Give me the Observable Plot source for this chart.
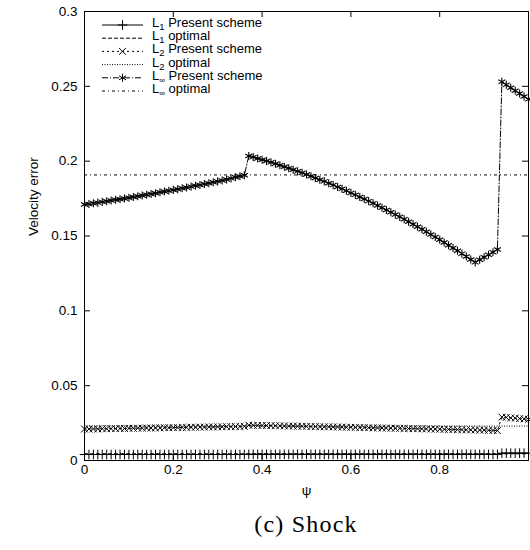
<!DOCTYPE html>
<html><head><meta charset="utf-8">
<script src="https://cdn.jsdelivr.net/npm/d3@7"></script>
<script src="https://cdn.jsdelivr.net/npm/@observablehq/plot@0.6"></script>
<style>
html,body{margin:0;padding:0;background:#fff;}
#wrap{position:relative;width:530px;height:550px;overflow:hidden;font-family:"Liberation Sans",Arial,sans-serif;}
#legend{position:absolute;left:0;top:0;}
#caption{position:absolute;left:84px;width:444px;top:510px;text-align:center;font-family:"Liberation Serif","DejaVu Serif",serif;font-size:24px;letter-spacing:1.2px;line-height:28px;color:#000;}
</style></head><body><div id="wrap"></div>
<script>
// psi sample points (last point repeated: drop at the right border)
const psi = [0,0.01,0.02,0.03,0.04,0.05,0.06,0.07,0.08,0.09,0.10,0.11,0.12,0.13,0.14,0.15,0.16,0.17,0.18,0.19,0.20,0.21,0.22,0.23,0.24,0.25,0.26,0.27,0.28,0.29,0.30,0.31,0.32,0.33,0.34,0.35,0.36,0.37,0.38,0.39,0.40,0.41,0.42,0.43,0.44,0.45,0.46,0.47,0.48,0.49,0.50,0.51,0.52,0.53,0.54,0.55,0.56,0.57,0.58,0.59,0.60,0.61,0.62,0.63,0.64,0.65,0.66,0.67,0.68,0.69,0.70,0.71,0.72,0.73,0.74,0.75,0.76,0.77,0.78,0.79,0.80,0.81,0.82,0.83,0.84,0.85,0.86,0.87,0.88,0.89,0.90,0.91,0.92,0.93,0.94,0.95,0.96,0.97,0.98,0.99,1.00,1.00];

const L1Present = [0.0040,0.0040,0.0040,0.0040,0.0040,0.0040,0.0040,0.0040,0.0040,0.0040,0.0040,0.0040,0.0040,0.0040,0.0040,0.0040,0.0040,0.0040,0.0040,0.0040,0.0040,0.0040,0.0040,0.0040,0.0040,0.0040,0.0040,0.0040,0.0040,0.0040,0.0040,0.0040,0.0040,0.0040,0.0040,0.0040,0.0040,
0.0041,0.0041,0.0041,0.0041,0.0041,0.0041,0.0041,0.0041,0.0041,0.0041,0.0041,0.0041,0.0041,0.0041,0.0041,0.0041,0.0041,0.0041,0.0041,0.0041,0.0041,0.0041,0.0041,0.0041,0.0041,0.0041,0.0041,0.0041,0.0041,0.0041,0.0041,0.0041,0.0041,0.0041,0.0041,0.0041,0.0041,0.0041,0.0041,0.0041,0.0041,0.0041,0.0041,0.0041,0.0041,0.0041,0.0041,0.0041,0.0041,0.0041,0.0041,0.0041,0.0041,0.0041,0.0041,0.0041,0.0041,
0.0049,0.0049,0.0049,0.0049,0.0049,0.0049,0.0049,0.0041];

const L2Present = [0.0210,0.0210,0.0211,0.0211,0.0212,0.0212,0.0213,0.0213,0.0214,0.0214,0.0215,0.0215,0.0216,0.0216,0.0217,0.0217,0.0218,0.0218,0.0219,0.0219,0.0220,0.0220,0.0221,0.0221,0.0222,0.0222,0.0223,0.0223,0.0224,0.0224,0.0225,0.0225,0.0226,0.0226,0.0227,0.0227,0.0228,
0.0236,0.0235,0.0235,0.0234,0.0234,0.0233,0.0232,0.0232,0.0231,0.0230,0.0230,0.0229,0.0229,0.0228,0.0227,0.0227,0.0226,0.0225,0.0225,0.0224,0.0224,0.0223,0.0222,0.0222,0.0221,0.0220,0.0220,0.0219,0.0218,0.0218,0.0217,0.0217,0.0216,0.0215,0.0215,0.0214,0.0213,0.0213,0.0212,0.0212,0.0211,0.0210,0.0210,0.0209,0.0208,0.0208,0.0207,0.0206,0.0206,0.0205,0.0205,0.0204,0.0203,0.0203,0.0202,0.0201,0.0200,
0.0290,0.0288,0.0285,0.0283,0.0280,0.0278,0.0275,0.0200];

const LinfPresent = [0.1710,0.1714,0.1719,0.1723,0.1728,0.1732,0.1737,0.1742,0.1746,0.1751,0.1756,0.1761,0.1766,0.1771,0.1776,0.1781,0.1786,0.1792,0.1797,0.1802,0.1808,0.1813,0.1819,0.1824,0.1830,0.1836,0.1841,0.1847,0.1853,0.1859,0.1865,0.1871,0.1878,0.1885,0.1892,0.1899,0.1906,
0.2035,0.2027,0.2018,0.2010,0.2001,0.1992,0.1983,0.1973,0.1963,0.1953,0.1943,0.1932,0.1922,0.1911,0.1899,0.1888,0.1876,0.1865,0.1852,0.1840,0.1827,0.1815,0.1802,0.1788,0.1775,0.1761,0.1747,0.1733,0.1719,0.1704,0.1689,0.1674,0.1659,0.1643,0.1628,0.1612,0.1595,0.1579,0.1562,0.1545,0.1528,0.1510,0.1493,0.1475,0.1457,0.1438,0.1420,0.1401,0.1382,0.1363,0.1343,0.1324,0.1341,0.1358,0.1375,0.1392,0.1410,
0.2530,0.2510,0.2491,0.2471,0.2452,0.2432,0.2413,0.1420];

const L1Optimal = 0.0045;
const L2Optimal = 0.0230;
const LinfOptimal = 0.1908;

const xTicks = [0, 0.2, 0.4, 0.6, 0.8];
const yTicks = [0, 0.05, 0.1, 0.15, 0.2, 0.25, 0.3];
const xTickLabels = ["0", "0.2", "0.4", "0.6", "0.8"];
const yTickLabels = ["0", "0.05", "0.1", "0.15", "0.2", "0.25", "0.3"];

const legendSubs = ["1", "1", "2", "2", "\u221E", "\u221E"];
const legendTexts = ["Present scheme", "optimal", "Present scheme", "optimal", "Present scheme", "optimal"];

// ---- styles ----
const dashes = {l1p: null, l1o: "4,2", l2p: "2,3", l2o: "1,1.5", lip: "6,2,1,2", lio: "3,3,1,3"};
const R = 3.2, RA = 3.8;

const W = 530, H = 505, mL = 84, mR = 2, mT = 11, mB = 45;
const pw = W - mL - mR, ph = H - mT - mB;
const nMarked = psi.length - 1;

const rows = psi.map((x, i) => ({x, l1: L1Present[i], l2: L2Present[i], li: LinfPresent[i], marked: i < nMarked}));
const marked = rows.filter(d => d.marked);

const chart = Plot.plot({
  width: W, height: H,
  marginLeft: mL, marginRight: mR, marginTop: mT, marginBottom: mB,
  style: {fontFamily: "Liberation Sans, Arial, sans-serif", fontSize: "13.5px", color: "black", background: "white", overflow: "visible"},
  x: {domain: [0, 1]},
  y: {domain: [0, 0.3]},
  marks: [
    Plot.ruleY([L1Optimal], {stroke: "black", strokeWidth: 1, strokeDasharray: dashes.l1o}),
    Plot.ruleY([L2Optimal], {stroke: "black", strokeWidth: 1, strokeDasharray: dashes.l2o}),
    Plot.ruleY([LinfOptimal], {stroke: "black", strokeWidth: 1, strokeDasharray: dashes.lio}),
    Plot.line(rows, {x: "x", y: "l1", stroke: "black", strokeWidth: 1}),
    Plot.line(rows, {x: "x", y: "l2", stroke: "black", strokeWidth: 1, strokeDasharray: dashes.l2p}),
    Plot.line(rows, {x: "x", y: "li", stroke: "black", strokeWidth: 1, strokeDasharray: dashes.lip}),
    Plot.dot(marked, {x: "x", y: "l1", symbol: "plus", r: R, stroke: "black", strokeWidth: 1}),
    Plot.dot(marked, {x: "x", y: "l2", symbol: "times", r: R, stroke: "black", strokeWidth: 1}),
    Plot.dot(marked, {x: "x", y: "li", symbol: "asterisk", r: RA, stroke: "black", strokeWidth: 1.1}),
    Plot.frame({stroke: "black", strokeWidth: 1}),
    Plot.tickX(xTicks, {x: d => d, insetTop: ph - 6, stroke: "black"}),
    Plot.tickX(xTicks, {x: d => d, insetBottom: ph - 6, stroke: "black"}),
    Plot.tickY(yTicks, {y: d => d, insetRight: pw - 6, stroke: "black"}),
    Plot.tickY(yTicks, {y: d => d, insetLeft: pw - 6, stroke: "black"}),
    Plot.axisX(xTicks, {tickSize: 0, tickPadding: 4, tickFormat: (d, i) => xTickLabels[i], label: null}),
    Plot.axisY(yTicks, {tickSize: 0, tickPadding: 7, tickFormat: (d, i) => yTickLabels[i], label: null}),
    Plot.text(["Velocity error"], {text: d => d, frameAnchor: "left", dx: -51, rotate: -90}),
    Plot.text(["\u03C8"], {text: d => d, frameAnchor: "bottom", dy: 34})
  ]
});

const wrap = document.getElementById("wrap");
wrap.appendChild(chart);

// ---- legend overlay ----
const symbols = [d3.symbolPlus, null, d3.symbolTimes, null, d3.symbolAsterisk, null];
const symR = [R, 0, R, 0, RA, 0];
const dashList = [dashes.l1p, dashes.l1o, dashes.l2p, dashes.l2o, dashes.lip, dashes.lio];
const leg = d3.select(wrap).append("svg").attr("id", "legend").attr("width", W).attr("height", 110)
  .style("font-family", "Liberation Sans, Arial, sans-serif").style("font-size", "13px");
legendTexts.forEach((t, i) => {
  const y = 25 + i * 13.2;
  const g = leg.append("g").attr("transform", `translate(0,${y})`);
  g.append("line").attr("x1", 102).attr("x2", 143).attr("y1", 0).attr("y2", 0)
    .attr("stroke", "black").attr("stroke-width", 1)
    .attr("stroke-dasharray", dashList[i]);
  if (symbols[i]) {
    g.append("path").attr("transform", "translate(122.5,0)")
      .attr("d", d3.symbol(symbols[i], Math.PI * symR[i] * symR[i])())
      .attr("fill", "none").attr("stroke", "black").attr("stroke-width", 1);
  }
  const tx = g.append("text").attr("x", 152).attr("y", 2);
  tx.append("tspan").text("L");
  tx.append("tspan").attr("dy", 3).style("font-size", legendSubs[i] === "\u221E" ? "8px" : "9.5px").text(legendSubs[i]);
  tx.append("tspan").attr("dy", -3).text(" " + t);
});

const cap = document.createElement("div");
cap.id = "caption";
cap.textContent = "(c) Shock";
wrap.appendChild(cap);
</script>
</body></html>
